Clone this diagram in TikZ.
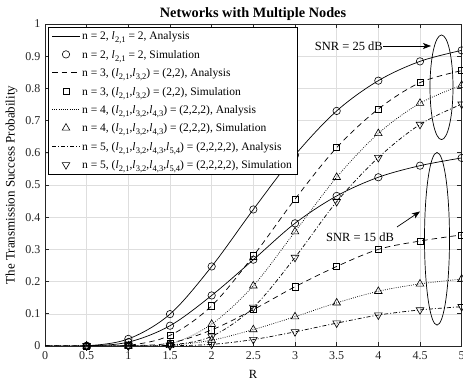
\documentclass[tikz,border=0pt]{standalone}
\usepackage{fontspec}
\setmainfont{Liberation Serif}
\usetikzlibrary{plotmarks,arrows.meta}
\newcommand\lsub[2]{\textit{l}\kern0.2pt\raisebox{-0.55ex}{\fontsize{8.5}{8.5}\selectfont #1,#2}}
\tikzset{
  gridc/.style={draw=black!13, line width=0.5pt},
  axc/.style={draw=black!85, line width=0.6pt},
  crv/.style={black, line width=0.7pt},
  dsh/.style={dash pattern=on 5.5pt off 4pt},
  dtt/.style={dash pattern=on 0.8pt off 1.4pt},
  dsd/.style={dash pattern=on 4pt off 2pt on 1pt off 2pt},
  mko/.style={only marks, mark=o, mark size=3.7pt, mark options={line width=0.6pt, solid}},
  mks/.style={only marks, mark=square, mark size=3.1pt, mark options={line width=0.6pt, solid}},
  mkt/.style={only marks, mark=triangle, mark size=4.4pt, mark options={line width=0.6pt, solid}},
  mkv/.style={only marks, mark=triangle, mark size=4.4pt, mark options={line width=0.6pt, solid, rotate=180}},
  tickl/.style={font=\fontsize{12}{14}\selectfont, text=black!85, inner sep=0pt},
  lgt/.style={font=\fontsize{11.5}{13}\selectfont, anchor=base west, inner sep=0pt},
  ann/.style={font=\fontsize{12.5}{14}\selectfont, inner sep=0pt},
  arr/.style={line width=0.7pt, -{Stealth[length=8pt,width=6pt,inset=2pt]}},
}
\begin{document}
\begin{tikzpicture}[x=1pt,y=1pt]
\useasboundingbox (0,0) rectangle (463,382);
\fill[white] (0,0) rectangle (463,382);
\begin{scope}[shift={(45pt,36pt)}, x=83.333pt, y=322pt]
  % grid
  \foreach \r in {0.5,1,...,4.5} \draw[gridc] (\r,0) -- (\r,1);
  \foreach \v in {1,...,9} \draw[gridc] (0,\v/10) -- (5,\v/10);
  % axes box and ticks
  \draw[axc] (0,0) rectangle (5,1);
  \foreach \r in {0.5,1,...,4.5} {
    \draw[axc] (\r,0) -- ++(0,4.3pt);
    \draw[axc] (\r,1) -- ++(0,-4.3pt);
  }
  \foreach \v in {1,...,9} {
    \draw[axc] (0,\v/10) -- ++(4.3pt,0);
    \draw[axc] (5,\v/10) -- ++(-4.3pt,0);
  }
  % tick labels
  \foreach \r/\t in {0/0,0.5/0.5,1/1,1.5/1.5,2/2,2.5/2.5,3/3,3.5/3.5,4/4,4.5/4.5,5/5}
    \node[tickl, anchor=north] (xt\t) at ([yshift=-5.5pt]\r,0) {\t};
  \foreach \v/\t in {0/0,0.1/0.1,0.2/0.2,0.3/0.3,0.4/0.4,0.5/0.5,0.6/0.6,0.7/0.7,0.8/0.8,0.9/0.9,1/1}
    \node[tickl, anchor=east] (yt\t) at ([xshift=-4.5pt]0,\v) {\t};
  % curves
  \begin{scope}
    \clip (0,0) rectangle (5,1);
    \draw[crv] plot[smooth, tension=0.55] coordinates {(0,0) (0.5,0.0005) (1,0.022) (1.5,0.099) (2,0.247) (2.5,0.424) (3,0.593) (3.5,0.73) (4,0.824) (4.5,0.884) (5,0.918)};
    \draw[crv] plot[smooth, tension=0.55] coordinates {(0,0) (0.5,0.0003) (1,0.012) (1.5,0.063) (2,0.157) (2.5,0.268) (3,0.381) (3.5,0.466) (4,0.524) (4.5,0.56) (5,0.584)};
    \draw[crv,dsh] plot[smooth, tension=0.55] coordinates {(0,0) (0.5,0) (1,0.002) (1.5,0.033) (2,0.125) (2.5,0.28) (3,0.456) (3.5,0.616) (4,0.736) (4.5,0.818) (5,0.855)};
    \draw[crv,dsh] plot[smooth, tension=0.55] coordinates {(0,0) (0.5,0) (1,0.001) (1.5,0.009) (2,0.05) (2.5,0.113) (3,0.184) (3.5,0.247) (4,0.3) (4.5,0.326) (5,0.345)};
    \draw[crv,dtt] plot[smooth, tension=0.55] coordinates {(0,0) (0.5,0) (1,0.0002) (1.5,0.006) (2,0.068) (2.5,0.187) (3,0.355) (3.5,0.524) (4,0.66) (4.5,0.754) (5,0.81)};
    \draw[crv,dtt] plot[smooth, tension=0.55] coordinates {(0,0) (0.5,0) (1,0.0001) (1.5,0.002) (2,0.018) (2.5,0.051) (3,0.091) (3.5,0.134) (4,0.17) (4.5,0.193) (5,0.208)};
    \draw[crv,dsd] plot[smooth, tension=0.55] coordinates {(0,0) (0.5,0) (1,0.0001) (1.5,0.003) (2,0.03) (2.5,0.12) (3,0.275) (3.5,0.448) (4,0.585) (4.5,0.688) (5,0.751)};
    \draw[crv,dsd] plot[smooth, tension=0.55] coordinates {(0,0) (0.5,0) (1,0) (1.5,0.0006) (2,0.005) (2.5,0.02) (3,0.044) (3.5,0.071) (4,0.096) (4.5,0.112) (5,0.122)};
  \end{scope}
  % markers
  \draw[black] plot[mko] coordinates {(0.5,0.0005) (1,0.022) (1.5,0.099) (2,0.247) (2.5,0.424) (3,0.593) (3.5,0.73) (4,0.824) (4.5,0.884) (5,0.918)};
  \draw[black] plot[mko] coordinates {(0.5,0.0003) (1,0.012) (1.5,0.063) (2,0.157) (2.5,0.268) (3,0.381) (3.5,0.466) (4,0.524) (4.5,0.56) (5,0.584)};
  \draw[black] plot[mks] coordinates {(0.5,0) (1,0.002) (1.5,0.033) (2,0.125) (2.5,0.28) (3,0.456) (3.5,0.616) (4,0.736) (4.5,0.818) (5,0.855)};
  \draw[black] plot[mks] coordinates {(0.5,0) (1,0.001) (1.5,0.009) (2,0.05) (2.5,0.113) (3,0.184) (3.5,0.247) (4,0.3) (4.5,0.326) (5,0.345)};
  \draw[black] plot[mkt] coordinates {(0.5,0) (1,0.0002) (1.5,0.006) (2,0.068) (2.5,0.187) (3,0.355) (3.5,0.524) (4,0.66) (4.5,0.754) (5,0.81)};
  \draw[black] plot[mkt] coordinates {(0.5,0) (1,0.0001) (1.5,0.002) (2,0.018) (2.5,0.051) (3,0.091) (3.5,0.134) (4,0.17) (4.5,0.193) (5,0.208)};
  \draw[black] plot[mkv] coordinates {(0.5,0) (1,0.0001) (1.5,0.003) (2,0.03) (2.5,0.12) (3,0.275) (3.5,0.448) (4,0.585) (4.5,0.688) (5,0.751)};
  \draw[black] plot[mkv] coordinates {(0.5,0) (1,0) (1.5,0.0006) (2,0.005) (2.5,0.02) (3,0.044) (3.5,0.071) (4,0.096) (4.5,0.112) (5,0.122)};
\end{scope}
% title and axis labels
\node[font=\bfseries\fontsize{14.3}{16}\selectfont, inner sep=0pt, anchor=base] (title) at (253,364) {Networks with Multiple Nodes};
\node[font=\fontsize{12.5}{14}\selectfont, inner sep=0pt] (xlab) at (253,8) {R};
\node[font=\fontsize{13}{15}\selectfont, inner sep=0pt, rotate=90] (ylab) at (11.5,197) {The Transmission Success Probability};
% legend
\draw[black, line width=0.6pt, fill=white] (48.3,207.7) rectangle (297,354.3);
\foreach \k in {0,...,7} \coordinate (r\k) at (66,346-18.4*\k);
\draw[crv] ([xshift=-14pt]r0) -- ([xshift=14pt]r0);
\draw[black] plot[mko] coordinates {(r1)};
\draw[crv,dsh] ([xshift=-14pt]r2) -- ([xshift=14pt]r2);
\draw[black] plot[mks] coordinates {(r3)};
\draw[crv,dtt] ([xshift=-14pt]r4) -- ([xshift=14pt]r4);
\draw[black] plot[mkt] coordinates {(r5)};
\draw[crv,dsd] ([xshift=-14pt]r6) -- ([xshift=14pt]r6);
\draw[black] plot[mkv] coordinates {(r7)};
\node[lgt] (l0) at ([xshift=16pt,yshift=-4pt]r0) {n = 2, \lsub21 = 2, Analysis};
\node[lgt] (l1) at ([xshift=16pt,yshift=-4pt]r1) {n = 2, \lsub21 = 2, Simulation};
\node[lgt] (l2) at ([xshift=16pt,yshift=-4pt]r2) {n = 3, (\lsub21,\lsub32) = (2,2), Analysis};
\node[lgt] (l3) at ([xshift=16pt,yshift=-4pt]r3) {n = 3, (\lsub21,\lsub32) = (2,2), Simulation};
\node[lgt] (l4) at ([xshift=16pt,yshift=-4pt]r4) {n = 4, (\lsub21,\lsub32,\lsub43) = (2,2,2), Analysis};
\node[lgt] (l5) at ([xshift=16pt,yshift=-4pt]r5) {n = 4, (\lsub21,\lsub32,\lsub43) = (2,2,2), Simulation};
\node[lgt] (l6) at ([xshift=16pt,yshift=-4pt]r6) {n = 5, (\lsub21,\lsub32,\lsub43,\lsub54) = (2,2,2,2), Analysis};
\node[lgt] (l7) at ([xshift=16pt,yshift=-4pt]r7) {n = 5, (\lsub21,\lsub32,\lsub43,\lsub54) = (2,2,2,2), Simulation};
% annotations
\draw[line width=0.7pt] (441.5,294.7) ellipse [x radius=11.5, y radius=52.3];
\draw[line width=0.7pt] (437,143.2) ellipse [x radius=12.5, y radius=86.3];
\node[ann, anchor=east] (snr25) at (383,336) {SNR = 25 dB};
\coordinate (a25) at (431,336);
\draw[arr] (snr25.east) -- (a25);
\node[ann] (snr15) at (360,145) {SNR = 15 dB};
\coordinate (a15s) at (397,155);
\coordinate (a15) at (420,170.5);
\draw[arr] (a15s) -- (a15);
\end{tikzpicture}
\end{document}
